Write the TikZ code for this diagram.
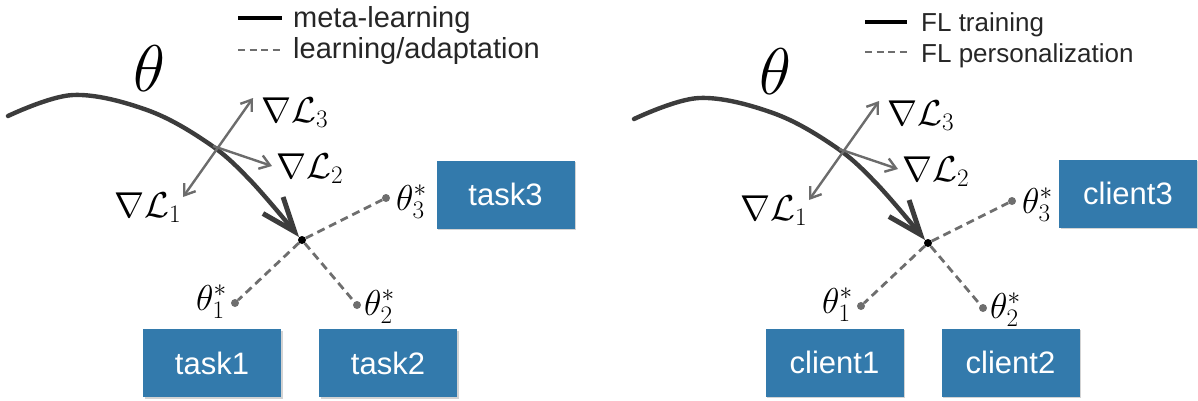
\RequirePackage{fix-cm}
\documentclass[tikz,border=0pt]{standalone}
\usepackage{fontspec}
\newfontfamily\helv{Liberation Sans}
\usetikzlibrary{arrows.meta,shadows}

\definecolor{boxblue}{RGB}{51,122,172}
\definecolor{curvegray}{RGB}{60,60,60}
\definecolor{gradgray}{RGB}{108,108,108}
\definecolor{dashgray}{RGB}{110,110,110}

\tikzset{
  mainpath/.style={draw=curvegray, line width=4.4pt, line cap=round,
    -{Straight Barb[length=34pt, width=26pt, line width=5pt]}},
  gradline/.style={draw=gradgray, line width=2.4pt},
  gradtip/.tip={Straight Barb[length=10pt, width=14pt, line width=2.4pt]},
  dashline/.style={draw=dashgray, line width=2.8pt, dash pattern=on 8pt off 5pt},
  gdot/.style={circle, fill=dashgray, inner sep=0pt, minimum size=8pt},
  cdot/.style={circle, fill=black, inner sep=0pt, minimum size=8pt},
  mlabel/.style={inner sep=0pt, anchor=base west, font=\fontsize{36}{40}\selectfont},
  biglabel/.style={inner sep=0pt, anchor=base west, font=\fontsize{66}{70}\selectfont},
  taskbox/.style={fill=boxblue, text=white, minimum width=138pt, minimum height=68pt,
    inner sep=0pt, font=\helv\fontsize{31}{34}\selectfont,
    drop shadow={shadow xshift=1.5pt, shadow yshift=-1.5pt, opacity=0.35}},
  legtext/.style={inner sep=0pt, anchor=base west, text=black!85},
  legsolid/.style={draw=black, line width=4.2pt},
  legdash/.style={draw=dashgray, line width=2.6pt, dash pattern=on 7pt off 4.5pt},
}

% one gradient/adaptation sketch; #1 is the name prefix
\newcommand\adaptsketch[1]{%
  \begin{scope}[name prefix=#1-]
    \coordinate (s0) at (8,116);
    \coordinate (s1) at (73,95);
    \coordinate (s2) at (147,110);
    \coordinate (s3) at (208,143);
    \coordinate (s4) at (250,180);
    \coordinate (tip) at (299,237);
    \node[cdot] (opt) at (302,240) {};
    \node[gdot] (t1) at (235,303) {};
    \node[gdot] (t2) at (357,305) {};
    \node[gdot] (t3) at (386,198) {};
    \draw[dashline] (opt) -- (t1);
    \draw[dashline] (opt) -- (t2);
    \draw[dashline] (opt) -- (t3);
    \draw[mainpath] plot[smooth, tension=0.6] coordinates {(s0) (s1) (s2) (s3) (s4) (tip)};
    \coordinate (g1) at (183,197);
    \coordinate (g3) at (253,98);
    \coordinate (gs) at (213,146);
    \coordinate (g2) at (272,166);
    \draw[gradline, {gradtip}-{gradtip}] (g1) -- (g3);
    \draw[gradline, -{gradtip}] (gs) -- (g2);
    \node[biglabel] (theta) at (133,91) {$\theta$};
    \node[mlabel] (L3) at (261,122) {$\nabla\mathcal{L}_3$};
    \node[mlabel] (L2) at (276,178) {$\nabla\mathcal{L}_2$};
    \node[mlabel] (L1) at (114,217) {$\nabla\mathcal{L}_1$};
    \node[mlabel] (th3) at (396,210) {$\theta_3^*$};
    \node[mlabel] (th1) at (196,310) {$\theta_1^*$};
    \node[mlabel] (th2) at (364,315) {$\theta_2^*$};
  \end{scope}}

\begin{document}
\begin{tikzpicture}[x=1pt, y=-1pt]
  \useasboundingbox (0,0) rectangle (1198,400);

  % meta-learning panel
  \adaptsketch{meta}
  \coordinate (ma) at (238,18);  \coordinate (mb) at (282,18);
  \coordinate (mc) at (238,50);  \coordinate (md) at (282,50);
  \draw[legsolid] (ma) -- (mb);
  \draw[legdash] (mc) -- (md);
  \node[legtext, font=\helv\fontsize{29}{32}\selectfont] (mleg1) at (293,27) {meta-learning};
  \node[legtext, font=\helv\fontsize{29}{32}\selectfont] (mleg2) at (293,58) {learning/adaptation};
  \node[taskbox] (task1) at (212,363) {task1};
  \node[taskbox] (task2) at (388,363) {task2};
  \node[taskbox] (task3) at (505.5,194.5) {task3};

  % federated learning panel
  \begin{scope}[shift={(626,3)}]
    \adaptsketch{fl}
  \end{scope}
  \coordinate (fa) at (865,22);  \coordinate (fb) at (907,22);
  \coordinate (fc) at (865,52);  \coordinate (fd) at (907,52);
  \draw[legsolid] (fa) -- (fb);
  \draw[legdash] (fc) -- (fd);
  \node[legtext, font=\helv\fontsize{26}{30}\selectfont] (fleg1) at (921,31) {FL training};
  \node[legtext, font=\helv\fontsize{26}{30}\selectfont] (fleg2) at (921,62) {FL personalization};
  \node[taskbox] (client1) at (834.5,362.5) {client1};
  \node[taskbox] (client2) at (1010.5,362.5) {client2};
  \node[taskbox] (client3) at (1128,193.5) {client3};
\end{tikzpicture}
\end{document}
